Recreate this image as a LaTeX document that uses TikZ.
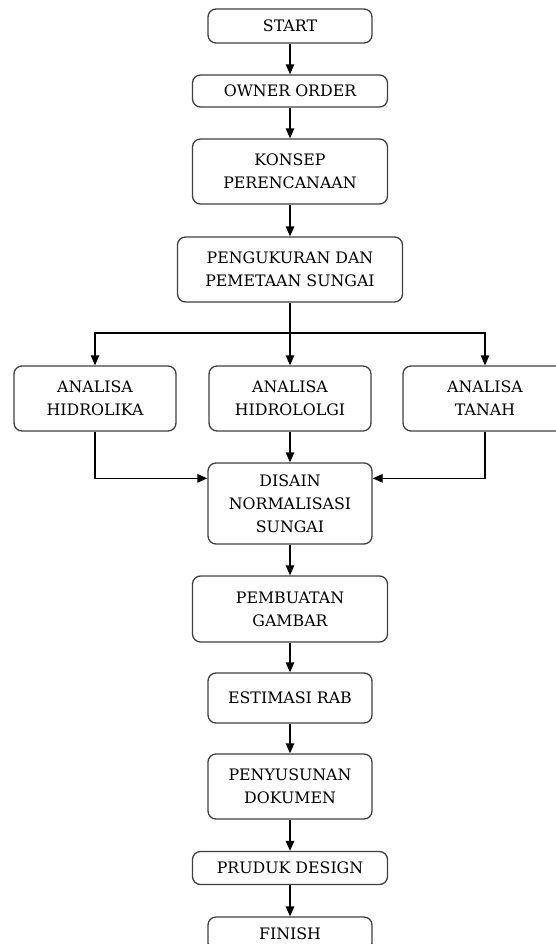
\documentclass[tikz,border=0pt]{standalone}
\usepackage{fontspec}
\setmainfont{DejaVu Serif}
\usetikzlibrary{arrows.meta}
\begin{document}
\begin{tikzpicture}[x=1pt,y=-1pt,
  box/.style={draw=black!75, line width=1.3pt, rounded corners=8pt, fill=white,
    align=center, inner sep=0pt, font=\fontsize{15.8}{23}\selectfont, text=black},
  arr/.style={draw=black, line width=1.3pt, -{Triangle[length=10pt,width=8.5pt]}},
  ln/.style={draw=black, line width=1.3pt}]
\useasboundingbox (0,0) rectangle (556,944);
\clip (0,0) rectangle (556,944);
\node[box, minimum width=164pt, minimum height=34pt] (start) at (290,26) {START};
\node[box, minimum width=195pt, minimum height=32pt] (owner) at (290,91) {OWNER ORDER};
\node[box, minimum width=195pt, minimum height=65pt] (konsep) at (290,171.5) {KONSEP\\PERENCANAAN};
\node[box, minimum width=225pt, minimum height=65pt] (peng) at (290,269.5) {PENGUKURAN DAN\\PEMETAAN SUNGAI};
\node[box, minimum width=162pt, minimum height=65pt] (ah) at (95,398.5) {ANALISA\\HIDROLIKA};
\node[box, minimum width=162pt, minimum height=65pt] (ahg) at (290,398.5) {ANALISA\\HIDROLOLGI};
\node[box, minimum width=164pt, minimum height=65pt] (at) at (485,398.5) {ANALISA\\TANAH};
\node[box, minimum width=164pt, minimum height=81pt] (dis) at (290,503.5) {DISAIN\\NORMALISASI\\SUNGAI};
\node[box, minimum width=195pt, minimum height=66pt] (pemb) at (290,609) {PEMBUATAN\\GAMBAR};
\node[box, minimum width=164pt, minimum height=50pt] (est) at (290,698) {ESTIMASI RAB};
\node[box, minimum width=164pt, minimum height=65pt] (peny) at (290,786.5) {PENYUSUNAN\\DOKUMEN};
\node[box, minimum width=195pt, minimum height=33pt] (prud) at (290,868) {PRUDUK DESIGN};
\node[box, minimum width=164pt, minimum height=34pt] (fin) at (290,934) {FINISH};
\coordinate (br) at (290,333);
\draw[arr] (start) -- (owner);
\draw[arr] (owner) -- (konsep);
\draw[arr] (konsep) -- (peng);
\draw[ln] (peng) -- (br);
\draw[arr] (br) -| (ah.north);
\draw[arr] (br) -- (ahg.north);
\draw[arr] (br) -| (at.north);
\draw[arr] (ahg) -- (dis);
\draw[arr] (ah.south) |- ([yshift=-16pt]dis.north west);
\draw[arr] (at.south) |- ([yshift=-16pt]dis.north east);
\draw[arr] (dis) -- (pemb);
\draw[arr] (pemb) -- (est);
\draw[arr] (est) -- (peny);
\draw[arr] (peny) -- (prud);
\draw[arr] (prud) -- (fin);
\end{tikzpicture}
\end{document}
